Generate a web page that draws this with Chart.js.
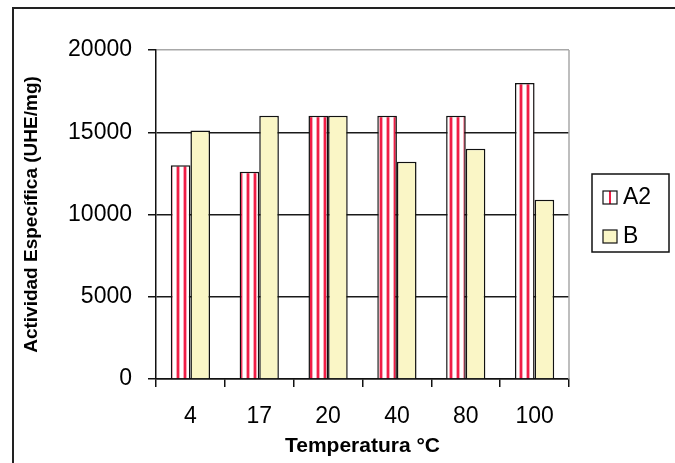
<!DOCTYPE html>
<html>
<head>
<meta charset="utf-8">
<script src="https://cdn.jsdelivr.net/npm/chart.js@4"></script>
<style>
  html, body { margin: 0; padding: 0; background: #fff; }
  #wrap { width: 675px; height: 463px; }
</style>
</head>
<body>
<div id="wrap"><canvas id="actChart" width="675" height="463"></canvas></div>
<script>
// data
const categories = ["4", "17", "20", "40", "80", "100"];
const a2Values = [13000, 12600, 16000, 16000, 16000, 18000];
const bValues = [15100, 16000, 16000, 13200, 14000, 10900];
const yTicks = [0, 5000, 10000, 15000, 20000];

const FONT = "'Liberation Sans', Arial, sans-serif";
const RED = "rgb(240, 30, 70)";
const YELLOW = "#faf6c6";

// vertical red stripes like the excel fill
function stripePattern() {
  const c = document.createElement("canvas");
  c.width = 7;
  c.height = 4;
  const g = c.getContext("2d");
  g.fillStyle = "#fff";
  g.fillRect(0, 0, 7, 4);
  g.fillStyle = "rgba(240, 30, 70, 0.4)";
  g.fillRect(1, 0, 1, 4);
  g.fillRect(4, 0, 1, 4);
  g.fillStyle = RED;
  g.fillRect(2, 0, 2, 4);
  return document.getElementById("actChart").getContext("2d").createPattern(c, "repeat");
}

const frame = {
  id: "frame",
  beforeDraw(chart) {
    const ctx = chart.ctx;
    ctx.save();
    ctx.fillStyle = "#fff";
    ctx.fillRect(0, 0, chart.width, chart.height);
    // outer chart border
    ctx.strokeStyle = "#222";
    ctx.lineWidth = 2;
    ctx.beginPath();
    ctx.moveTo(13, chart.height);
    ctx.lineTo(13, 8);
    ctx.lineTo(chart.width, 8);
    ctx.stroke();
    ctx.restore();
  },
  afterDatasetsDraw(chart) {
    const ctx = chart.ctx;
    const a = chart.chartArea;
    ctx.save();
    // gray right edge of plot area
    ctx.strokeStyle = "#a8a8a8";
    ctx.lineWidth = 1.5;
    ctx.beginPath();
    ctx.moveTo(a.right, a.top);
    ctx.lineTo(a.right, a.bottom);
    ctx.stroke();

    // legend box
    const lx = a.right + 23, ly = 174, lw = 77, lh = 78;
    ctx.strokeStyle = "#111";
    ctx.lineWidth = 1.5;
    ctx.strokeRect(lx, ly, lw, lh);
    ctx.font = "23px " + FONT;
    ctx.textBaseline = "middle";
    chart.data.datasets.forEach((ds, i) => {
      const cy = ly + 23 + i * 39;
      const sx = lx + 11;
      ctx.fillStyle = i === 0 ? "#fff" : YELLOW;
      ctx.fillRect(sx, cy - 6, 14, 13);
      if (i === 0) {
        ctx.fillStyle = RED;
        ctx.fillRect(sx + 6, cy - 6, 2, 13);
      }
      ctx.strokeStyle = "#111";
      ctx.lineWidth = 1.2;
      ctx.strokeRect(sx, cy - 6, 14, 13);
      ctx.fillStyle = "#000";
      ctx.fillText(ds.label, sx + 20, cy + 1);
    });
    ctx.restore();
  }
};

const actChart = new Chart(document.getElementById("actChart"), {
  type: "bar",
  data: {
    labels: categories,
    datasets: [
      {
        label: "A2",
        data: a2Values,
        backgroundColor: stripePattern(),
        borderColor: "#111",
        borderWidth: 1.5,
      },
      {
        label: "B",
        data: bValues,
        backgroundColor: YELLOW,
        borderColor: "#111",
        borderWidth: 1.5,
      },
    ],
  },
  options: {
    responsive: false,
    animation: false,
    events: [],
    layout: { padding: { top: 50, right: 106, bottom: 0, left: 0 } },
    datasets: { bar: { categoryPercentage: 0.57, barPercentage: 1.0 } },
    plugins: { legend: { display: false }, tooltip: { enabled: false } },
    scales: {
      x: {
        afterFit(scale) { scale.height = 84; },
        grid: { offset: true, drawOnChartArea: false, tickLength: 8, tickColor: "#111", lineWidth: 1.5 },
        border: { color: "#111", width: 1.5 },
        ticks: { color: "#000", font: { family: FONT, size: 23 }, padding: 16, maxRotation: 0 },
        title: {
          display: true,
          text: "Temperatura °C",
          color: "#000",
          font: { family: FONT, size: 21, weight: "bold" },
          padding: { top: 0, bottom: 4 },
        },
      },
      y: {
        min: 0,
        max: 20000,
        afterFit(scale) { scale.width = 156; },
        afterBuildTicks(scale) { scale.ticks = yTicks.map(v => ({ value: v })); },
        grid: {
          color: ctx => (ctx.tick && ctx.tick.value === 20000 ? "#a8a8a8" : "#1a1a1a"),
          lineWidth: 1.5,
          tickLength: 8,
          tickColor: "#111",
        },
        border: { color: "#111", width: 1.5 },
        ticks: {
          color: "#000",
          font: { family: FONT, size: 23 },
          padding: 16,
          callback: v => String(v),
        },
        title: {
          display: true,
          text: "Actividad Específica (UHE/mg)",
          color: "#000",
          font: { family: FONT, size: 19, weight: "bold" },
          padding: { top: 20, bottom: 0 },
        },
      },
    },
  },
  plugins: [frame],
});
</script>
</body>
</html>
